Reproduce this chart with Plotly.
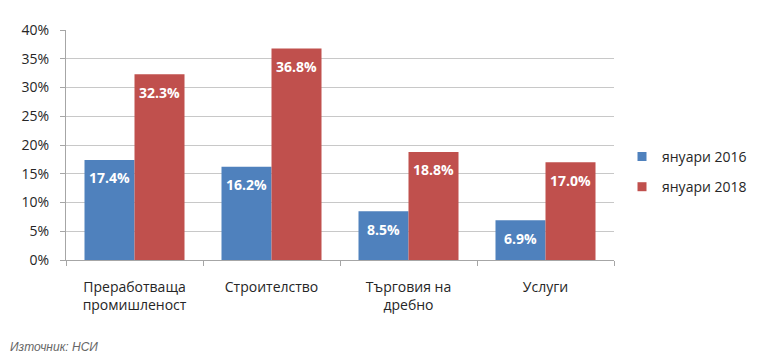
import plotly.graph_objects as go

categories = ["Преработваща<br>промишленост", "Строителство", "Търговия на<br>дребно", "Услуги"]
series_names = ["януари 2016", "януари 2018"]
values_2016 = [0.174, 0.162, 0.085, 0.069]
values_2018 = [0.323, 0.368, 0.188, 0.170]
colors = ["#4f81bd", "#c0504d"]
ytick_vals = [0, 0.05, 0.10, 0.15, 0.20, 0.25, 0.30, 0.35, 0.40]

FONT = "Open Sans, Noto Sans, sans-serif"
TXT = "#262626"
BARGAP = 0.27

W, H = 768, 364
ML, MR, MT, MB = 58, 162, 22, 112
plot_w = W - ML - MR
plot_h = H - MT - MB
bar_px = plot_w / len(categories) * (1 - BARGAP) / 2

fig = go.Figure()
series = [values_2016, values_2018]
for i, (name, vals, col) in enumerate(zip(series_names, series, colors)):
    fig.add_trace(go.Bar(
        x=categories, y=vals, name=name, showlegend=False,
        marker=dict(color=col, line=dict(width=0)),
    ))
    # legend proxy with a small square marker
    fig.add_trace(go.Scatter(
        x=[None], y=[None], mode="markers", name=name, legendgroup=name,
        marker=dict(symbol="square", size=9, color=col),
    ))

annotations = []
for i, vals in enumerate(series):
    for cat, v in zip(categories, vals):
        annotations.append(dict(
            x=cat, y=v, xref="x", yref="y", text=f"<b>{v*100:.1f}%</b>",
            showarrow=False, xanchor="center", yanchor="middle",
            xshift=(i - 0.5) * bar_px, yshift=-18,
            font=dict(color="white", size=14, family=FONT),
        ))
annotations.append(dict(
    text="<i>Източник: НСИ</i>",
    x=(0 - ML) / plot_w, y=-((347 - 8) - (H - MB)) / plot_h,
    xref="paper", yref="paper", xanchor="left", yanchor="middle",
    showarrow=False,
    font=dict(size=12, color="#666666", family="Liberation Sans, Arial, sans-serif"),
))

fig.update_layout(
    width=W, height=H,
    margin=dict(l=ML, r=MR, t=MT, b=MB, autoexpand=False),
    paper_bgcolor="white", plot_bgcolor="white",
    barmode="group", bargap=BARGAP, bargroupgap=0,
    font=dict(family=FONT, size=14, color=TXT),
    showlegend=True,
    legend=dict(x=1.0146, y=0.383, xanchor="left", yanchor="middle",
                font=dict(size=14, color=TXT, family=FONT),
                tracegroupgap=9, itemwidth=30, bgcolor="rgba(0,0,0,0)"),
    xaxis=dict(
        showline=True, linecolor="#a6a6a6", linewidth=1,
        ticks="outside", tickson="boundaries", ticklen=5, tickcolor="#a6a6a6",
        tickfont=dict(size=14, color=TXT, family=FONT),
        ticklabelstandoff=14,
        showgrid=False, automargin=False,
    ),
    yaxis=dict(
        range=[0, 0.40], tickvals=ytick_vals, tickformat=".0%",
        showline=True, linecolor="#a6a6a6", linewidth=1,
        ticks="outside", ticklen=5, tickcolor="#a6a6a6",
        showgrid=True, gridcolor="#c8c8c8", gridwidth=1,
        zeroline=False, ticklabelstandoff=8,
        tickfont=dict(size=14, color=TXT, family=FONT),
        automargin=False,
    ),
    annotations=annotations,
)

fig.write_html("out.html")
